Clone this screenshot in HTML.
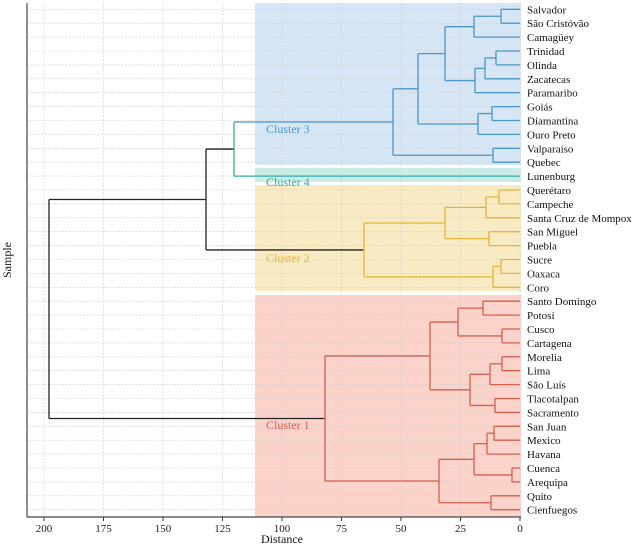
<!DOCTYPE html><html><head><meta charset="utf-8"><style>body{margin:0;background:#fff}svg{display:block;font-family:"Liberation Serif",serif}</style></head><body>
<svg id="s" width="639" height="545" xmlns="http://www.w3.org/2000/svg"></svg>
<script>
const s=document.getElementById('s');let h='';
const names=["Salvador","São Cristóvão","Camagüey","Trinidad","Olinda","Zacatecas","Paramaribo","Goiás","Diamantina","Ouro Preto","Valparaíso","Quebec","Lunenburg","Querétaro","Campeche","Santa Cruz de Mompox","San Miguel","Puebla","Sucre","Oaxaca","Coro","Santo Domingo","Potosí","Cusco","Cartagena","Morelia","Lima","São Luís","Tlacotalpan","Sacramento","San Juan","Mexico","Havana","Cuenca","Arequipa","Quito","Cienfuegos"];
const Y=i=>9.3+i*13.9, X=d=>520-2.38*d;
// shading
h+='<rect x="255" y="3" width="266" height="162" fill="#d6e6f5"/>';
h+='<rect x="255" y="168" width="266" height="14" fill="#c9ece9"/>';
h+='<rect x="255" y="185" width="266" height="106" fill="#f8ebc4"/>';
h+='<rect x="255" y="295" width="266" height="222" fill="#fbd3cb"/>';
// grid
for(let i=0;i<37;i++)h+=`<line x1="27" x2="521" y1="${Y(i)}" y2="${Y(i)}" stroke="#ccc" stroke-width="0.6" stroke-dasharray="2,1.5"/>`;
for(let d=0;d<=200;d+=25){const x=X(d);h+=`<line x1="${x}" x2="${x}" y1="3" y2="517" stroke="#ccc" stroke-width="0.6" stroke-dasharray="2,1.5"/><line x1="${x}" x2="${x}" y1="517" y2="521" stroke="#333"/><text x="${x}" y="532" font-size="11" text-anchor="middle" fill="#222">${d}</text>`;}
const C={b:"#4a97c9",t:"#35aaa5",y:"#e3b53a",r:"#d65f4c",k:"#222"};
function N(x,l,r,c){return {x,l,r,c};}
const A=N(501,0,1,'b'),B=N(474,A,2,'b'),Cc=N(496,3,4,'b'),D=N(485,Cc,5,'b'),E=N(475,D,6,'b'),F=N(445,B,E,'b'),G=N(492,7,8,'b'),H=N(478,G,9,'b'),I=N(418,F,H,'b'),J=N(493,10,11,'b'),K=N(393,I,J,'b'),L=N(234,K,12,'t');
const Q1=N(499,13,14,'y'),Q2=N(486,Q1,15,'y'),Q3=N(489,16,17,'y'),Q4=N(445,Q2,Q3,'y'),Q5=N(501,18,19,'y'),Q6=N(493,Q5,20,'y'),C2=N(364,Q4,Q6,'y');
const R1=N(483,21,22,'r'),R2=N(502,23,24,'r'),R3=N(458,R1,R2,'r'),R4=N(502,25,26,'r'),R5=N(490,R4,27,'r'),R6=N(495,28,29,'r'),R7=N(470,R5,R6,'r'),R8=N(430,R3,R7,'r'),S1=N(494,30,31,'r'),S2=N(487,S1,32,'r'),S3=N(512,33,34,'r'),S4=N(474,S2,S3,'r'),S5=N(491,35,36,'r'),S6=N(439,S4,S5,'r'),C1=N(325,R8,S6,'r');
const M=N(206,L,C2,'k'),Root=N(49,M,C1,'k');
function pos(n){if(typeof n==='number')return {x:520,y:Y(n)};return {x:n.x,y:n.yy};}
function lay(n){if(typeof n==='number')return Y(n);n.yy=(lay(n.l)+lay(n.r))/2;return n.yy;}
lay(Root);
function col(n,p){if(typeof n==='number'){return n===12?'t':p.c;}if(p.c==='k'&&n.c!=='k'&&n!==L)return 'k';if(n===L)return 'k';return n.c;}
function draw(n){if(typeof n==='number')return;const a=pos(n.l),b=pos(n.r);
h+=`<line x1="${n.x}" x2="${n.x}" y1="${a.y}" y2="${b.y}" stroke="${C[n.c]}" stroke-width="1.3"/>`;
[[n.l,a],[n.r,b]].forEach(([c,p])=>{let cc=typeof c==='number'?(c===12?'t':n.c):(n.c==='k'?'k':(n===L?'b':n.c));h+=`<line x1="${n.x}" x2="${p.x}" y1="${p.y}" y2="${p.y}" stroke="${C[cc]}" stroke-width="1.3"/>`;draw(c);});}
draw(Root);
// axes
h+='<line x1="27" x2="27" y1="3" y2="517" stroke="#444" stroke-width="1.2"/><line x1="27" x2="521" y1="517" y2="517" stroke="#444" stroke-width="1.2"/>';
names.forEach((t,i)=>h+=`<text x="527" y="${Y(i)+4}" font-size="11" fill="#111">${t}</text>`);
h+=`<text x="266" y="133" font-size="12" fill="${C.b}">Cluster 3</text><text x="266" y="186" font-size="12" fill="${C.t}">Cluster 4</text><text x="266" y="262" font-size="12" fill="${C.y}">Cluster 2</text><text x="266" y="429" font-size="12" fill="${C.r}">Cluster 1</text>`;
h+='<text x="282" y="543" font-size="12" text-anchor="middle" fill="#111">Distance</text><text transform="translate(11,260) rotate(-90)" font-size="12" text-anchor="middle" fill="#111">Sample</text>';
s.innerHTML=h;
</script></body></html>
